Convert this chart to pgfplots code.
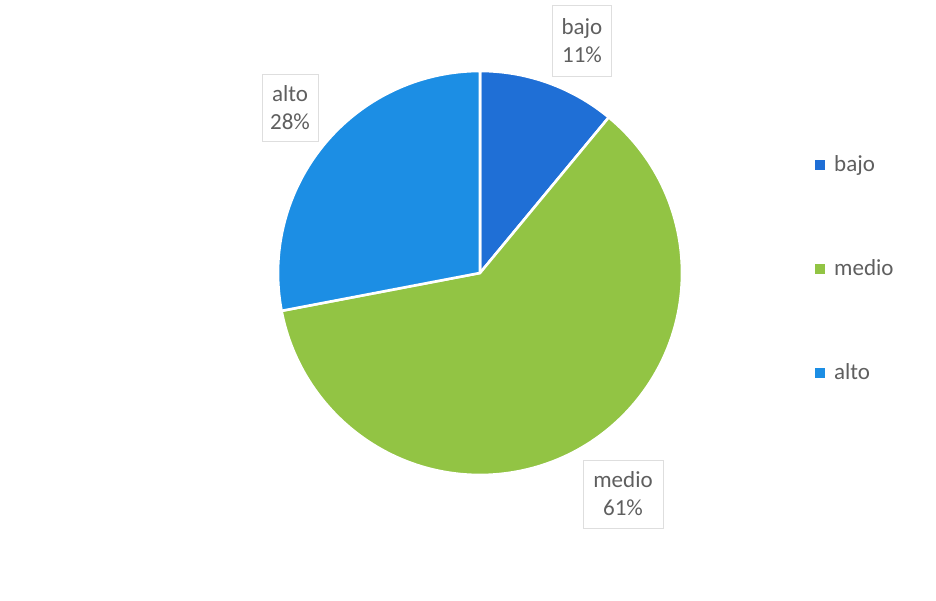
\documentclass[border=0pt]{standalone}
\usepackage{pgfplots}
\pgfplotsset{compat=1.18}
\usepackage{pgfplotstable}
\usepackage{fontspec}
\setmainfont{Carlito}
\definecolor{cbajo}{RGB}{31,111,214}
\definecolor{cmedio}{RGB}{146,196,68}
\definecolor{calto}{RGB}{28,142,228}
\definecolor{txt}{RGB}{95,95,95}
\definecolor{boxc}{RGB}{222,222,222}
\pgfplotstableread{
label value color
bajo 11 cbajo
medio 61 cmedio
alto 28 calto
}\piedata
\begin{document}
\begin{tikzpicture}
\begin{axis}[
  hide axis, scale only axis, x=0.5pt, y=0.5pt,
  xmin=0, xmax=936, ymin=0, ymax=600, clip=false,
  font=\fontsize{11.5}{14}\selectfont,
  legend style={at={(axis cs:809,453)}, anchor=north west, draw=none, fill=none,
    text=txt, row sep=38.5pt, font=\fontsize{11.5}{14}\selectfont},
  legend cell align=left,
]
\path (rel axis cs:0,0) rectangle (rel axis cs:1,1);
\def\angstart{90}
\pgfplotsforeachungrouped \i in {0,1,2}{%
  \pgfplotstablegetelem{\i}{value}\of\piedata \let\v\pgfplotsretval
  \pgfplotstablegetelem{\i}{color}\of\piedata \let\c\pgfplotsretval
  \pgfmathsetmacro\angend{\angstart-3.6*\v}%
  \edef\temp{\noexpand\fill[\c, draw=white, line width=1.3pt, line join=round] (axis cs:480,327) -- ++(\angstart:101pt) arc[start angle=\angstart, end angle=\angend, radius=101pt] -- cycle;}%
  \temp
  \let\angstart\angend
}
\addlegendimage{only marks, mark=square*, mark size=2.2pt, cbajo, mark options={draw=none}}
\addlegendentry{\hspace{3pt}bajo}
\addlegendimage{only marks, mark=square*, mark size=2.2pt, cmedio, mark options={draw=none}}
\addlegendentry{\hspace{3pt}medio}
\addlegendimage{only marks, mark=square*, mark size=2.2pt, calto, mark options={draw=none}}
\addlegendentry{\hspace{3pt}alto}
\node[draw=boxc, fill=white, text=txt, align=center, minimum width=29.5pt, minimum height=35.5pt, inner sep=1pt] at (axis cs:582,559) {bajo\\11\%};
\node[draw=boxc, fill=white, text=txt, align=center, minimum width=28pt, minimum height=33.5pt, inner sep=1pt] at (axis cs:290,492) {alto\\28\%};
\node[draw=boxc, fill=white, text=txt, align=center, minimum width=40pt, minimum height=34pt, inner sep=1pt] at (axis cs:623,106) {medio\\61\%};
\end{axis}
\end{tikzpicture}
\end{document}
